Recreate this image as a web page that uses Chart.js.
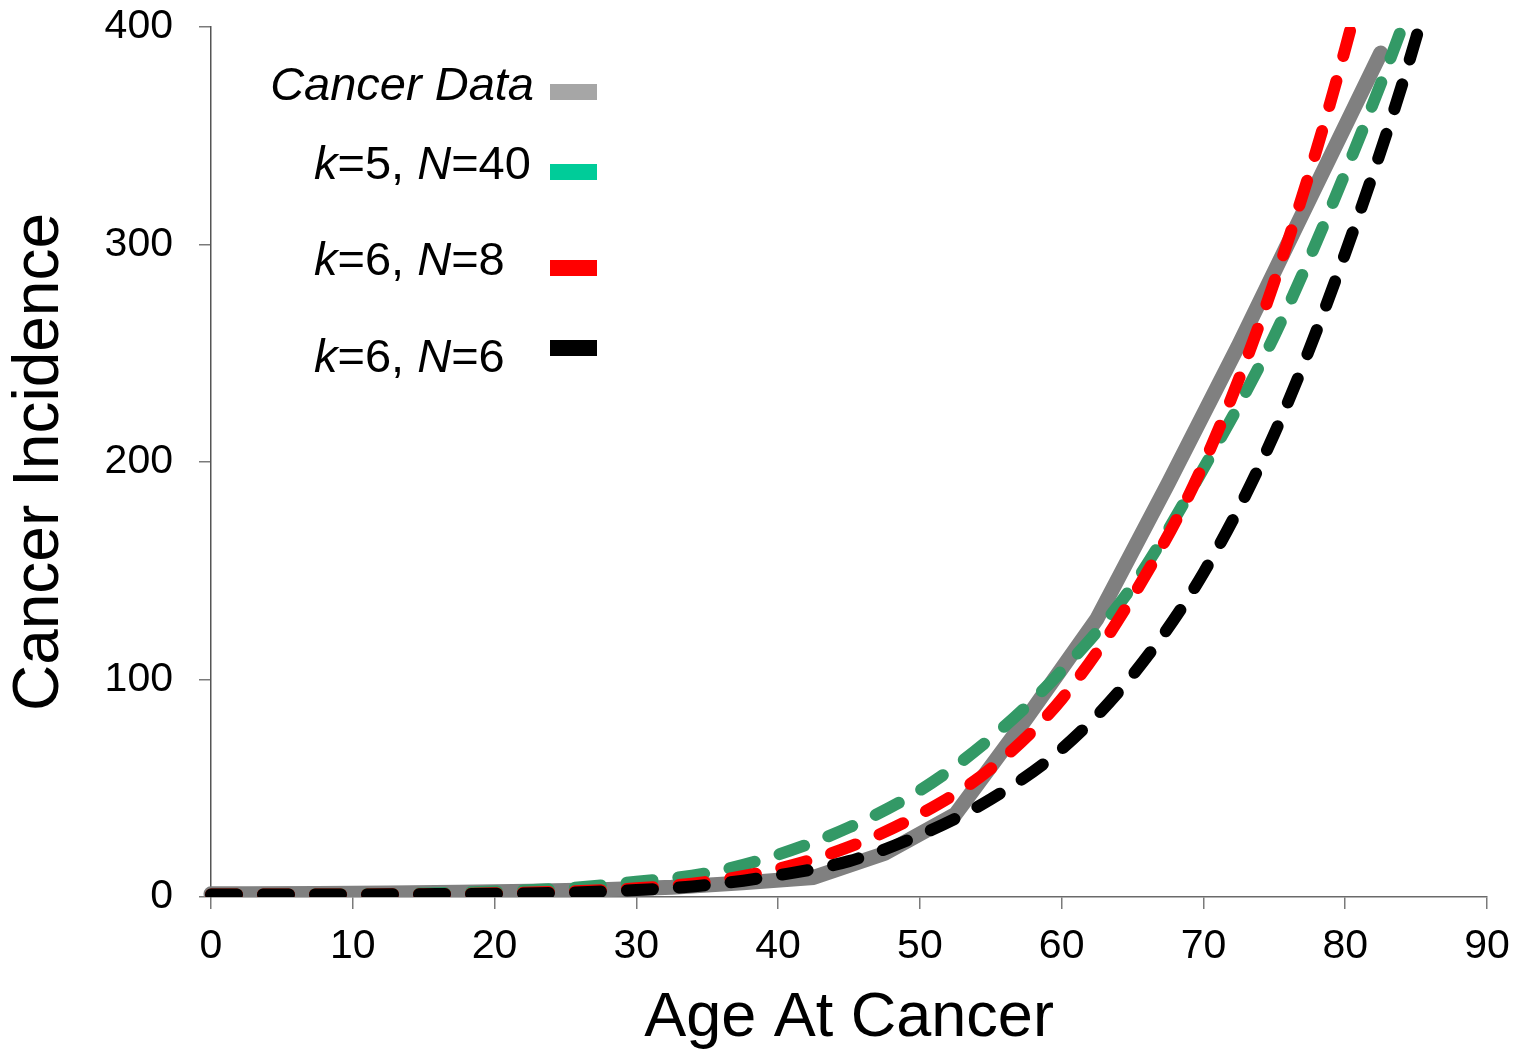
<!DOCTYPE html>
<html>
<head>
    <meta charset="utf-8">
    <title>Cancer Incidence</title>
    <style>
        html, body { margin: 0; padding: 0; background: #fff; }
        #wrap { width: 1513px; height: 1056px; position: relative; }
    </style>
</head>
<body>
    <div id="wrap"><canvas id="chart"></canvas></div>

    <script src="https://cdn.jsdelivr.net/npm/chart.js@4.4.1/dist/chart.umd.min.js"></script>
    <script>
        // observed data (5-year age groups, midpoints)
        var dataAges = [0, 2.5, 7.5, 12.5, 17.5, 22.5, 27.5, 32.5, 37.5, 42.5, 47.5, 52.5, 57.5, 62.5, 67.5, 72.5, 77.5, 82.5];
        var cancerData = [1.5, 1.5, 1.6, 1.8, 2.2, 2.7, 3.3, 4.5, 6.5, 9, 20, 38, 82, 128, 190, 254, 321, 388];

        // model curves (last point runs past the top of the axis and is clipped)
        var modelAges = [0, 5, 10, 15, 20, 25, 30, 35, 40, 45, 50, 55, 60, 65, 70, 75, 80, 85, 90];
        var k5N40 = [1.2, 1.2, 1.3, 1.6, 2.5, 4, 7, 11, 19.5, 32, 49, 73, 104, 143, 197, 258, 333, 418, 520];
        var k6N8  = [1.2, 1.2, 1.2, 1.3, 1.7, 2.5, 4, 7, 13, 23, 38, 59, 91, 138, 199, 283, 390, 525, 690];
        var k6N6  = [1.2, 1.2, 1.2, 1.3, 1.5, 2, 3.2, 5.5, 10, 16.5, 28.5, 45, 68, 102, 149, 213, 296, 395, 520];

        var seriesLabels = ['Cancer Data', 'k=5, N=40', 'k=6, N=8', 'k=6, N=6'];
        var xTicks = [0, 10, 20, 30, 40, 50, 60, 70, 80, 90];
        var yTicks = [0, 100, 200, 300, 400];

        var FONT = '"Liberation Sans", Arial, sans-serif';

        function pts(xs, ys) {
            var out = [];
            for (var i = 0; i < xs.length; i++) out.push({x: xs[i], y: ys[i]});
            return out;
        }

        function dashed(label, values, color, order) {
            return {
                label: label,
                data: pts(modelAges, values),
                borderColor: color,
                borderWidth: 12,
                borderDash: [26, 26],
                borderCapStyle: 'round',
                borderJoinStyle: 'round',
                cubicInterpolationMode: 'monotone',
                pointRadius: 0,
                fill: false,
                order: order,
                clip: {left: 8, top: 0, right: 8, bottom: 0}
            };
        }

        // legend drawn by hand: text left, swatch right, italic k and N
        var legendRows = [
            {parts: [[seriesLabels[0], true]], align: 'right', x: 534, base: 100, swatch: '#A6A6A6', sy: 92},
            {parts: [['k', true], ['=5, ', false], ['N', true], ['=40', false]], align: 'left', x: 314, base: 179, swatch: '#00CC99', sy: 172},
            {parts: [['k', true], ['=6, ', false], ['N', true], ['=8', false]], align: 'left', x: 314, base: 275, swatch: '#FF0000', sy: 268},
            {parts: [['k', true], ['=6, ', false], ['N', true], ['=6', false]], align: 'left', x: 314, base: 372, swatch: '#000000', sy: 348}
        ];

        var legendPlugin = {
            id: 'sideLegend',
            afterDraw: function(chart) {
                var ctx = chart.ctx;
                ctx.save();
                ctx.textBaseline = 'alphabetic';
                ctx.textAlign = 'left';
                legendRows.forEach(function(row) {
                    var total = 0;
                    row.parts.forEach(function(p) {
                        ctx.font = (p[1] ? 'italic ' : '') + '47px ' + FONT;
                        total += ctx.measureText(p[0]).width;
                    });
                    var x = row.align === 'right' ? row.x - total : row.x;
                    ctx.fillStyle = '#000';
                    row.parts.forEach(function(p) {
                        ctx.font = (p[1] ? 'italic ' : '') + '47px ' + FONT;
                        ctx.fillText(p[0], x, row.base);
                        x += ctx.measureText(p[0]).width;
                    });
                    ctx.fillStyle = row.swatch;
                    ctx.fillRect(550, row.sy - 8, 47, 16);
                });
                ctx.restore();
            }
        };

        var ctx = document.getElementById('chart');
        var chart = new Chart(ctx, {
            type: 'line',
            data: {
                datasets: [
                    {
                        label: seriesLabels[0],
                        data: pts(dataAges, cancerData),
                        borderColor: '#808080',
                        borderWidth: 15,
                        borderCapStyle: 'round',
                        borderJoinStyle: 'round',
                        tension: 0,
                        pointRadius: 0,
                        fill: false,
                        order: 4,
                        clip: {left: 8, top: 0, right: 8, bottom: 0}
                    },
                    dashed(seriesLabels[1], k5N40, '#339966', 3),
                    dashed(seriesLabels[2], k6N8, '#FF0000', 2),
                    dashed(seriesLabels[3], k6N6, '#000000', 1)
                ]
            },
            options: {
                responsive: true,
                maintainAspectRatio: false,
                animation: false,
                events: [],
                layout: { padding: { top: 27, right: 26, bottom: 0, left: 0 } },
                plugins: {
                    legend: { display: false },
                    tooltip: { enabled: false }
                },
                scales: {
                    x: {
                        type: 'linear',
                        min: 0,
                        max: 90,
                        afterFit: function(s) {
                            s.height = 159;
                            s.paddingLeft = 0;
                            s.paddingRight = 0;
                        },
                        afterBuildTicks: function(s) { s.ticks = xTicks.map(function(v) { return {value: v}; }); },
                        grid: { display: true, drawOnChartArea: false, drawTicks: true, tickLength: 12, color: '#7a7a7a', lineWidth: 1.5 },
                        border: { display: true, color: '#6a6a6a', width: 1.5 },
                        ticks: { color: '#000', padding: 13, maxRotation: 0, font: { family: FONT, size: 41 } },
                        title: { display: true, text: 'Age At Cancer', color: '#000', padding: 0, font: { family: FONT, size: 63 } }
                    },
                    y: {
                        min: 0,
                        max: 400,
                        afterFit: function(s) {
                            s.width = 211;
                            s.paddingTop = 0;
                            s.paddingBottom = 0;
                        },
                        afterBuildTicks: function(s) { s.ticks = yTicks.map(function(v) { return {value: v}; }); },
                        grid: { display: true, drawOnChartArea: false, drawTicks: true, tickLength: 12, color: '#7a7a7a', lineWidth: 1.5 },
                        border: { display: true, color: '#555', width: 1.5 },
                        ticks: { color: '#000', padding: 26, font: { family: FONT, size: 41 } },
                        title: { display: true, text: 'Cancer Incidence', color: '#000', padding: { top: 2, bottom: 0 }, font: { family: FONT, size: 64 } }
                    }
                }
            },
            plugins: [legendPlugin]
        });
    </script>
</body>
</html>
